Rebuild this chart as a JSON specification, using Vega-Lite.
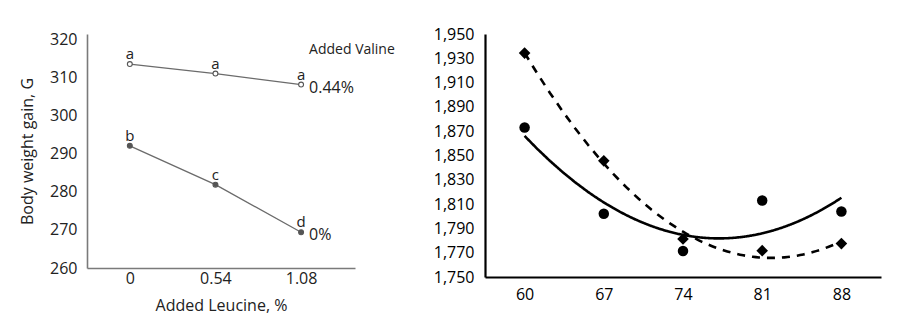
{
  "$schema": "https://vega.github.io/schema/vega-lite/v6.json",
  "padding": {"left": 19, "top": 26, "right": 5, "bottom": 5},
  "background": "white",
  "config": {
    "font": "Open Sans",
    "view": {"stroke": null},
    "axis": {"grid": false, "ticks": false, "labelOverlap": false, "tickCount": 30, "labelFont": "Open Sans", "titleFont": "Open Sans", "titleFontWeight": "normal", "labelFontSize": 16, "titleFontSize": 16}
  },
  "bounds": "flush",
  "spacing": 130,
  "datasets": {
    "leucine": [
      {"leucine": 0, "gain": 313.6, "valine": "0.44%", "sig": "a"},
      {"leucine": 0.54, "gain": 311.1, "valine": "0.44%", "sig": "a"},
      {"leucine": 1.08, "gain": 308.2, "valine": "0.44%", "sig": "a"},
      {"leucine": 0, "gain": 292.1, "valine": "0%", "sig": "b"},
      {"leucine": 0.54, "gain": 281.9, "valine": "0%", "sig": "c"},
      {"leucine": 1.08, "gain": 269.4, "valine": "0%", "sig": "d"}
    ],
    "note": [
      {"leucine": 1.08, "gain": 317.4, "text": "Added Valine"}
    ],
    "weight": [
      {"x": 60, "value": 1873, "series": "circle"},
      {"x": 67, "value": 1802, "series": "circle"},
      {"x": 74, "value": 1771.4, "series": "circle"},
      {"x": 81, "value": 1813, "series": "circle"},
      {"x": 88, "value": 1803.9, "series": "circle"},
      {"x": 60, "value": 1934.3, "series": "diamond"},
      {"x": 67, "value": 1845.6, "series": "diamond"},
      {"x": 74, "value": 1781.3, "series": "diamond"},
      {"x": 81, "value": 1771.7, "series": "diamond"},
      {"x": 88, "value": 1777.5, "series": "diamond"}
    ]
  },
  "hconcat": [
    {
      "width": 268,
      "height": 234,
      "layer": [
        {
          "data": {"name": "leucine"},
          "mark": {"type": "line", "color": "#6b6b6b", "strokeWidth": 1.3},
          "encoding": {
            "x": {"field": "leucine", "type": "quantitative", "scale": {"domain": [-0.27, 1.42], "nice": false, "zero": false},
              "axis": {"values": [0, 0.54, 1.08], "tickCount": 30, "labelExpr": "'' + datum.value", "title": "Added Leucine, %", "domainColor": "#7a7a7a", "domainWidth": 1.6, "labelColor": "#222", "titleColor": "#222", "labelPadding": 2, "titlePadding": 11}},
            "y": {"field": "gain", "type": "quantitative", "scale": {"domain": [260, 321.5], "nice": false, "zero": false},
              "axis": {"values": [260, 270, 280, 290, 300, 310, 320], "tickCount": 30, "title": "Body weight gain, G", "domainColor": "#7a7a7a", "domainWidth": 1.6, "labelColor": "#222", "titleColor": "#222", "labelPadding": 10, "titlePadding": 14}},
            "detail": {"field": "valine"}
          }
        },
        {
          "data": {"name": "leucine"},
          "mark": {"type": "point", "shape": "circle", "size": 24, "filled": true, "stroke": "#555", "strokeWidth": 1.1, "opacity": 1},
          "encoding": {
            "x": {"field": "leucine", "type": "quantitative"},
            "y": {"field": "gain", "type": "quantitative"},
            "fill": {"field": "valine", "type": "nominal", "scale": {"domain": ["0.44%", "0%"], "range": ["white", "#555"]}, "legend": null}
          }
        },
        {
          "data": {"name": "leucine"},
          "mark": {"type": "text", "fontSize": 15, "color": "#222", "baseline": "alphabetic", "dy": -5},
          "encoding": {
            "x": {"field": "leucine", "type": "quantitative"},
            "y": {"field": "gain", "type": "quantitative"},
            "text": {"field": "sig"}
          }
        },
        {
          "data": {"name": "leucine"},
          "transform": [{"filter": "datum.leucine == 1.08"}],
          "mark": {"type": "text", "fontSize": 16, "color": "#222", "align": "left", "baseline": "middle", "dx": 8, "dy": 3},
          "encoding": {
            "x": {"field": "leucine", "type": "quantitative"},
            "y": {"field": "gain", "type": "quantitative"},
            "text": {"field": "valine"}
          }
        },
        {
          "data": {"name": "note"},
          "mark": {"type": "text", "fontSize": 14, "color": "#222", "align": "left", "baseline": "middle", "dx": 8},
          "encoding": {
            "x": {"field": "leucine", "type": "quantitative"},
            "y": {"field": "gain", "type": "quantitative"},
            "text": {"field": "text"}
          }
        }
      ]
    },
    {
      "width": 396,
      "height": 243,
      "data": {"name": "weight"},
      "layer": [
        {
          "transform": [{"regression": "value", "on": "x", "groupby": ["series"], "method": "poly", "order": 2}],
          "mark": {"type": "line", "color": "black", "strokeWidth": 2.6},
          "encoding": {
            "x": {"field": "x", "type": "quantitative", "scale": {"domain": [56.5, 91.5], "nice": false, "zero": false},
              "axis": {"values": [60, 67, 74, 81, 88], "tickCount": 30, "title": null, "domainColor": "black", "domainWidth": 2.2, "labelColor": "black", "labelPadding": 9}},
            "y": {"field": "value", "type": "quantitative", "scale": {"domain": [1750, 1950], "nice": false, "zero": false},
              "axis": {"values": [1750, 1770, 1790, 1810, 1830, 1850, 1870, 1890, 1910, 1930, 1950], "tickCount": 30, "format": ",.0f", "title": null, "domainColor": "black", "domainWidth": 2.2, "labelColor": "black", "labelPadding": 11}},
            "strokeDash": {"field": "series", "type": "nominal", "scale": {"domain": ["circle", "diamond"], "range": [[1, 0], [8, 7]]}, "legend": null}
          }
        },
        {
          "mark": {"type": "point", "filled": true, "color": "black", "opacity": 1},
          "encoding": {
            "x": {"field": "x", "type": "quantitative"},
            "y": {"field": "value", "type": "quantitative"},
            "shape": {"field": "series", "type": "nominal", "scale": {"domain": ["circle", "diamond"], "range": ["circle", "diamond"]}, "legend": null},
            "size": {"field": "series", "type": "nominal", "scale": {"domain": ["circle", "diamond"], "range": [110, 135]}, "legend": null}
          }
        }
      ]
    }
  ]
}
